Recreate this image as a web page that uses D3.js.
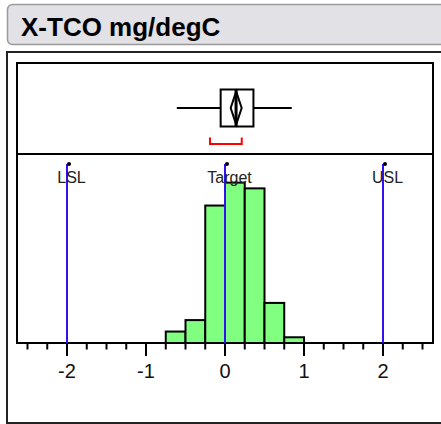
<!DOCTYPE html>
<html>
<head>
<meta charset="utf-8">
<script src="https://cdn.jsdelivr.net/npm/d3@7"></script>
<style>
	body { margin: 0; background: #fff; }
	svg { display: block; font-family: 'Liberation Sans', Arial, sans-serif; }
</style>
</head>
<body>
<div id="chart"></div>
<script>
// histogram bins (bin start, width 0.25) and counts
const binStarts = [-0.75, -0.5, -0.25, 0, 0.25, 0.5, 0.75];
const binCounts = [2, 4, 24, 28, 27, 7, 1];
const binWidth = 0.25;

// box plot summary
const boxStats = { low: -0.61, q1: -0.055, median: 0.14, q3: 0.36, high: 0.845 };
const meanCI = [0.072, 0.211];
const shortestHalf = [-0.19, 0.212];

// spec limits
const specNames = ['LSL', 'Target', 'USL'];
const specValues = [-2, 0, 2];

const majorTicks = [-2, -1, 0, 1, 2];
const title = 'X-TCO mg/degC';

const W = 441, H = 424;
const svg = d3.select('#chart').append('svg').attr('width', W).attr('height', H);

// title bar
svg.append('rect')
	.attr('x', 7.5).attr('y', 4.5).attr('width', 450).attr('height', 40)
	.attr('rx', 5)
	.style('fill', '#e1e1e6').style('stroke', '#9a9a9a').style('stroke-width', 1.5);
svg.append('text')
	.attr('x', 21).attr('y', 36)
	.style('font-size', '26px').style('font-weight', 'bold').style('fill', '#000')
	.text(title);

// outer frame
svg.append('path')
	.attr('d', `M${W + 5},52 H7 V423 H${W + 5}`)
	.style('fill', 'none').style('stroke', '#222').style('stroke-width', 2);

const plotL = 17, plotR = 433, plotT = 63, divY = 154, base = 343;
const pxPerUnit = 79, zeroX = 225;
const x = d3.scaleLinear()
	.domain([(plotL - zeroX) / pxPerUnit, (plotR - zeroX) / pxPerUnit])
	.range([plotL, plotR]);
const y = d3.scaleLinear().domain([0, 33]).range([base, divY]);

// inner frame
svg.append('rect')
	.attr('x', plotL).attr('y', plotT).attr('width', plotR - plotL).attr('height', base - plotT)
	.style('fill', 'none').style('stroke', '#000').style('stroke-width', 2);
svg.append('line')
	.attr('x1', plotL).attr('x2', plotR).attr('y1', divY).attr('y2', divY)
	.style('stroke', '#000').style('stroke-width', 2);

// histogram
svg.append('g').selectAll('rect')
	.data(binStarts.map((s, i) => ({ s, c: binCounts[i] })))
	.join('rect')
	.attr('x', (d) => x(d.s))
	.attr('width', (d) => x(d.s + binWidth) - x(d.s))
	.attr('y', (d) => y(d.c))
	.attr('height', (d) => y(0) - y(d.c))
	.style('fill', '#80ff80').style('stroke', '#000').style('stroke-width', 2);

// spec lines
const spec = svg.append('g');
specValues.forEach((v, i) => {
	spec.append('line')
		.attr('x1', x(v)).attr('x2', x(v)).attr('y1', 164).attr('y2', base)
		.style('stroke', '#3311ee').style('stroke-width', 2);
	spec.append('circle')
		.attr('cx', x(v) + 2).attr('cy', 164).attr('r', 2)
		.style('fill', '#000');
	spec.append('text')
		.attr('x', x(v) + 4.5).attr('y', 183)
		.attr('text-anchor', 'middle')
		.style('font-size', '16px').style('fill', '#222')
		.text(specNames[i]);
});

// box plot
const cy = 108, bh = 37;
const box = svg.append('g').style('stroke', '#000').style('stroke-width', 2).style('fill', 'none');
box.append('line').attr('x1', x(boxStats.low)).attr('x2', x(boxStats.q1)).attr('y1', cy).attr('y2', cy);
box.append('line').attr('x1', x(boxStats.q3)).attr('x2', x(boxStats.high)).attr('y1', cy).attr('y2', cy);
box.append('rect')
	.attr('x', x(boxStats.q1)).attr('y', cy - bh / 2)
	.attr('width', x(boxStats.q3) - x(boxStats.q1)).attr('height', bh);
const mid = (meanCI[0] + meanCI[1]) / 2;
box.append('path')
	.attr('d', `M${x(meanCI[0])},${cy} L${x(mid)},${cy - bh / 2 + 2} L${x(meanCI[1])},${cy} L${x(mid)},${cy + bh / 2 - 2} Z`);
box.append('line')
	.attr('x1', x(boxStats.median)).attr('x2', x(boxStats.median))
	.attr('y1', cy - bh / 2).attr('y2', cy + bh / 2)
	.style('stroke-width', 3);
svg.append('path')
	.attr('d', `M${x(shortestHalf[0])},137.5 V144 H${x(shortestHalf[1])} V137.5`)
	.style('fill', 'none').style('stroke', '#ff0000').style('stroke-width', 2);

// axis ticks
const minorTicks = d3.range(-10, 11).map((k) => k * 0.25).filter((v) => v % 1 !== 0);
const axis = svg.append('g').style('stroke', '#000').style('stroke-width', 2);
axis.selectAll('.minor').data(minorTicks).join('line')
	.attr('x1', (d) => x(d)).attr('x2', (d) => x(d)).attr('y1', base).attr('y2', 349.5);
axis.selectAll('.major').data(majorTicks).join('line')
	.attr('x1', (d) => x(d)).attr('x2', (d) => x(d)).attr('y1', base).attr('y2', 356);
svg.append('g').selectAll('text').data(majorTicks).join('text')
	.attr('x', (d) => x(d)).attr('y', 377.5)
	.attr('text-anchor', 'middle')
	.style('font-size', '20px').style('fill', '#111')
	.text((d) => (d < 0 ? '-' + Math.abs(d) : d));
</script>
</body>
</html>
